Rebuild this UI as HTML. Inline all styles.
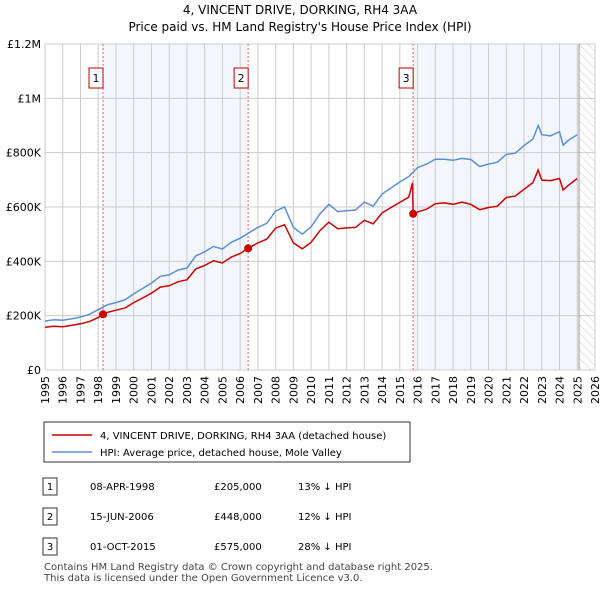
<!DOCTYPE html>
<html><head><meta charset="utf-8"><style>
body{margin:0;background:#fff;font-family:"Liberation Sans","DejaVu Sans",sans-serif;}
svg text{font-family:"DejaVu Sans","Liberation Sans",sans-serif;}
</style></head><body>
<svg id="c" width="600" height="590" viewBox="0 0 600 590">
<defs><pattern id="hatch" width="6" height="6" patternUnits="userSpaceOnUse" patternTransform="rotate(-45)"><line x1="0" y1="0" x2="0" y2="6" stroke="#ccc" stroke-width="1"/></pattern></defs>
<text x="300" y="14" text-anchor="middle" font-size="12">4, VINCENT DRIVE, DORKING, RH4 3AA</text>
<text x="300" y="31" text-anchor="middle" font-size="12">Price paid vs. HM Land Registry's House Price Index (HPI)</text>
<g id="plot"></g>
<g>
<rect x="44" y="422" width="366" height="40" fill="#fff" stroke="#333"/>
<line x1="52" y1="435" x2="92" y2="435" stroke="#cc0000" stroke-width="1.5"/>
<text x="100" y="439" font-size="10">4, VINCENT DRIVE, DORKING, RH4 3AA (detached house)</text>
<line x1="52" y1="452" x2="92" y2="452" stroke="#5b8fd4" stroke-width="1.5"/>
<text x="100" y="456" font-size="10">HPI: Average price, detached house, Mole Valley</text>
</g>
<g font-size="10">
<rect x="43" y="478" width="14" height="17" fill="#fff" stroke="#333"/><text x="50" y="490" text-anchor="middle">1</text>
<text x="90" y="490">08-APR-1998</text><text x="214" y="490">£205,000</text><text x="298" y="490">13% ↓ HPI</text>
<rect x="43" y="508" width="14" height="17" fill="#fff" stroke="#333"/><text x="50" y="520" text-anchor="middle">2</text>
<text x="90" y="520">15-JUN-2006</text><text x="214" y="520">£448,000</text><text x="298" y="520">12% ↓ HPI</text>
<rect x="43" y="538" width="14" height="17" fill="#fff" stroke="#333"/><text x="50" y="550" text-anchor="middle">3</text>
<text x="90" y="550">01-OCT-2015</text><text x="214" y="550">£575,000</text><text x="298" y="550">28% ↓ HPI</text>
</g>
<text x="44" y="570" font-size="10" fill="#444">Contains HM Land Registry data © Crown copyright and database right 2025.</text>
<text x="44" y="581" font-size="10" fill="#444">This data is licensed under the Open Government Licence v3.0.</text>
</svg>
<script>
const hpiT=[1995,1995.5,1996,1996.5,1997,1997.5,1998,1998.5,1999,1999.5,2000,2000.5,2001,2001.5,2002,2002.5,2003,2003.5,2004,2004.5,2005,2005.5,2006,2006.5,2007,2007.5,2008,2008.5,2009,2009.5,2010,2010.5,2011,2011.5,2012,2012.5,2013,2013.5,2014,2014.5,2015,2015.5,2016,2016.5,2017,2017.5,2018,2018.5,2019,2019.5,2020,2020.5,2021,2021.5,2022,2022.5,2022.8,2023,2023.5,2024,2024.2,2024.5,2025];
const hpiV=[180,185,183,188,195,205,222,240,248,258,280,300,320,345,350,368,375,420,435,455,445,470,485,505,525,540,585,600,525,500,527,575,610,583,586,589,618,603,648,670,692,712,745,758,776,776,772,779,775,749,758,765,794,798,826,850,900,866,862,877,828,845,866];
const ppT=[1995,1995.5,1996,1996.5,1997,1997.5,1998,1998.27,1998.5,1999,1999.5,2000,2000.5,2001,2001.5,2002,2002.5,2003,2003.5,2004,2004.5,2005,2005.5,2006,2006.45,2006.5,2007,2007.5,2008,2008.5,2009,2009.5,2010,2010.5,2011,2011.5,2012,2012.5,2013,2013.5,2014,2014.5,2015,2015.5,2015.72,2015.75,2016,2016.5,2017,2017.5,2018,2018.5,2019,2019.5,2020,2020.5,2021,2021.5,2022,2022.5,2022.8,2023,2023.5,2024,2024.2,2024.5,2025];
const ppV=[157,161,159,164,170,178,193,205,212,220,228,248,265,283,305,310,325,332,372,385,402,394,416,429,448,450,468,482,522,535,468,446,470,513,544,520,523,525,551,538,578,598,617,636,690,575,582,592,612,615,610,618,610,590,598,603,635,640,665,690,736,699,697,705,663,680,705];
const saleT=[1998.27,2006.45,2015.75];
const saleV=[205,448,575];
const saleLabels=["1","2","3"];
const yTicks=[0,200,400,600,800,1000,1200];
const yTickLabels=["£0","£200K","£400K","£600K","£800K","£1M","£1.2M"];
const xYears=[];for(let y=1995;y<=2026;y++)xYears.push(y);

const X0=45,X1=595,Y0=370,Y1=44;
const xs=t=>X0+(t-1995)/(2026-1995)*(X1-X0);
const ys=v=>Y0-v/1200*(Y0-Y1);
const NS="http://www.w3.org/2000/svg";
const g=document.getElementById('plot');
function mk(tag,attrs,parent){const e=document.createElementNS(NS,tag);for(const k in attrs)e.setAttribute(k,attrs[k]);(parent||g).appendChild(e);return e;}
// shaded periods
for(let i=0;i<saleT.length;i++){
  const a=saleT[i],b=i<saleT.length-1?saleT[i+1]:2025.1;
  if(i===1)continue;
  const r=mk('rect',{x:xs(a),y:Y1,width:xs(b)-xs(a),height:Y0-Y1,fill:'#eef3fc',opacity:0.7});
  
  
}
const h=mk('rect',{x:xs(2025.1),y:Y1,width:X1-xs(2025.1),height:Y0-Y1,fill:'url(#hatch)'});


// grid
xYears.forEach(y=>{const l=mk('line',{x1:xs(y),x2:xs(y),y1:Y1,y2:Y0,stroke:'#ccc'});


const t=mk('text',{x:0,y:0,'font-size':11,'text-anchor':'end',transform:`translate(${xs(y)+4},${Y0+6}) rotate(-90)`});t.textContent=y;

});
yTicks.forEach((v,i)=>{const l=mk('line',{x1:X0,x2:X1,y1:ys(v),y2:ys(v),stroke:'#ccc'});


const t=mk('text',{x:X0-4,y:ys(v)+4,'font-size':11,'text-anchor':'end'});t.textContent=yTickLabels[i];

});
const ln=mk('line',{x1:xs(2025.1),x2:xs(2025.1),y1:Y1,y2:Y0,stroke:'#999'});


// sale markers
saleT.forEach((t,i)=>{
  const l=mk('line',{x1:xs(t),x2:xs(t),y1:Y1,y2:Y0,stroke:'#e06060','stroke-dasharray':'2,2'});
  
  
  const bx=mk('rect',{x:xs(t)-14,y:68,width:14,height:20,fill:'#fff',stroke:'#b00'});
  
  
  const tx=mk('text',{x:xs(t)-7,y:82,'font-size':11,'text-anchor':'middle'});tx.textContent=saleLabels[i];
  
  
});
function path(T,V,col,name){const d=T.map((t,i)=>(i?'L':'M')+xs(t).toFixed(1)+','+ys(V[i]).toFixed(1)).join('');
const p=mk('path',{d,fill:'none',stroke:col,'stroke-width':1.5});

}
path(hpiT,hpiV,'#5b8fd4','hpi-line');
path(ppT,ppV,'#cc0000','property-line');
saleT.forEach((t,i)=>{const c=mk('circle',{cx:xs(t),cy:ys(saleV[i]),r:4,fill:'#cc0000'});

});
</script>
</body></html>
